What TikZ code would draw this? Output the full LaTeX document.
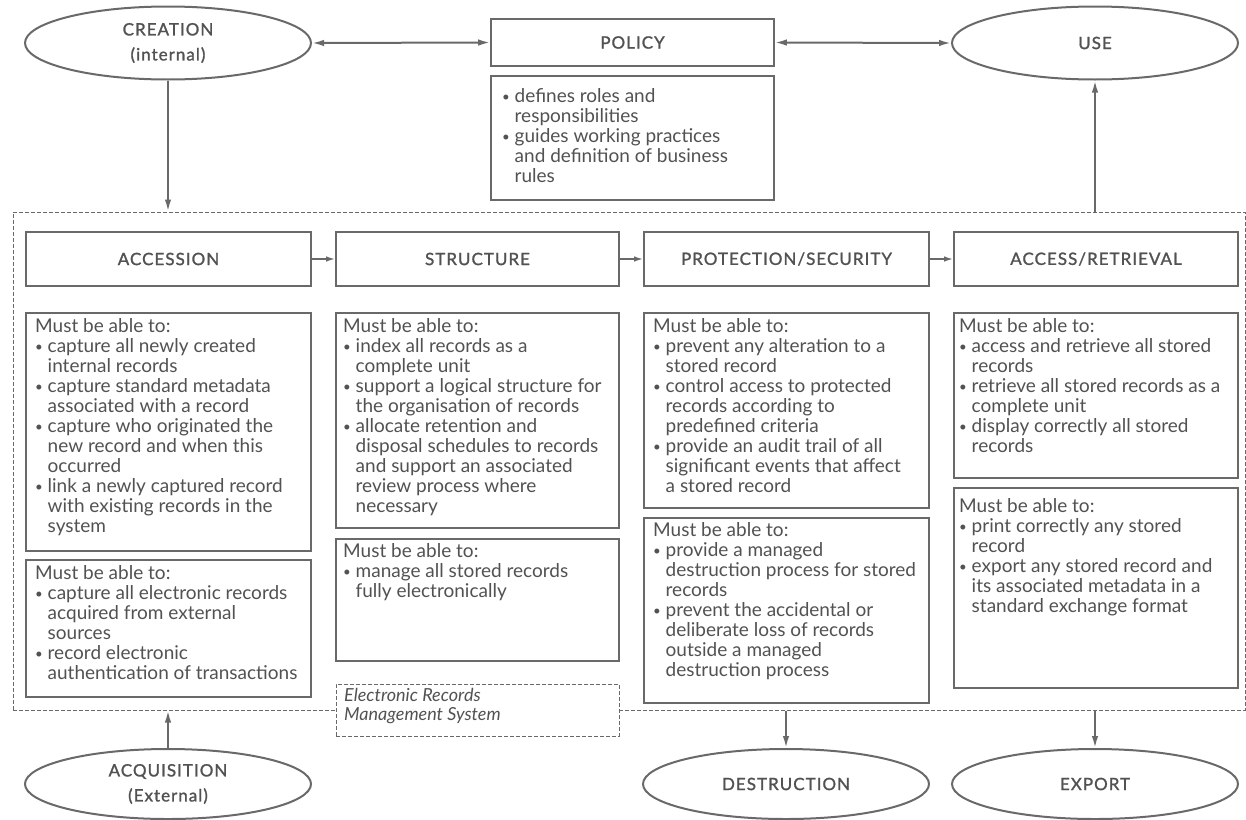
\documentclass[tikz,border=0pt]{standalone}
\usepackage{fontspec}
\setmainfont{Lato}
\newfontfamily\hdfont{Lato}[FakeBold=1.3,LetterSpace=6]
\usetikzlibrary{shapes.geometric,arrows.meta}
\definecolor{txt}{RGB}{82,82,82}
\definecolor{ln}{RGB}{105,105,105}
\newcommand\mybul{\makebox[12.5pt][l]{\raisebox{1pt}{\scalebox{0.7}{•}}}}
\newcommand\myind{\hspace*{12.5pt}}
\begin{document}
\begin{tikzpicture}[x=1pt,y=-1pt,
  box/.style={draw=ln, line width=1.7pt, rectangle, inner sep=0pt, fill=white},
  hdr/.style={box, text=txt, font=\hdfont\fontsize{17}{18}\selectfont},
  oval/.style={draw=ln, line width=2pt, ellipse, minimum width=286pt, minimum height=73pt, inner sep=0pt, align=center, text=txt, font=\hdfont\fontsize{17}{25}\selectfont},
  body/.style={anchor=north west, inner sep=0pt, align=left, text=txt, font=\fontsize{19}{20}\selectfont},
  arr/.style={draw=ln, line width=2pt, -{Latex[length=12pt,width=6.5pt]}},
  darr/.style={draw=ln, line width=2pt, {Latex[length=12pt,width=6.5pt]}-{Latex[length=12pt,width=6.5pt]}},
  sarr/.style={draw=ln, line width=1.6pt, -{Latex[length=9pt,width=5.5pt]}},
  dashbox/.style={draw=ln, line width=1pt, dash pattern=on 4pt off 2pt, rectangle, inner sep=0pt}
]
\fill[white] (0,0) rectangle (1246,819);
\useasboundingbox (0,0) rectangle (1246,819);

% outer system boundary
\node[dashbox, minimum width=1232pt, minimum height=498pt] (erms) at (629,461) {};

% top row
\node[oval] (creation) at (168,43) {CREATION\\(internal)};
\node[oval] (use) at (1095,43) {USE};
\node[hdr, minimum width=283pt, minimum height=47pt] (policy) at (632.5,42.5) {POLICY};
\node[box, minimum width=283pt, minimum height=124pt] (policyb) at (632.5,138) {};
\node[body] (policyt) at (502,88) {\mybul defines roles and\\\myind responsibilities\\\mybul guides working practices\\\myind and definition of business\\\myind rules};

% headers
\node[hdr, minimum width=285pt, minimum height=54pt] (h1) at (168.5,259) {ACCESSION};
\node[hdr, minimum width=283pt, minimum height=54pt] (h2) at (477.5,259) {STRUCTURE};
\node[hdr, minimum width=285pt, minimum height=54pt] (h3) at (786.5,259) {PROTECTION/SECURITY};
\node[hdr, minimum width=284pt, minimum height=54pt] (h4) at (1096,259) {ACCESS/RETRIEVAL};

% content boxes
\node[box, minimum width=285pt, minimum height=238pt] (a1) at (168.5,432) {};
\node[box, minimum width=285pt, minimum height=137pt] (a2) at (168.5,628.5) {};
\node[box, minimum width=283pt, minimum height=215pt] (s1) at (477.5,420.5) {};
\node[box, minimum width=283pt, minimum height=122pt] (s2) at (477.5,600) {};
\node[box, minimum width=285pt, minimum height=195pt] (p1) at (786.5,410.5) {};
\node[box, minimum width=285pt, minimum height=185pt] (p2) at (786.5,610.5) {};
\node[box, minimum width=284pt, minimum height=165pt] (r1) at (1096,395.5) {};
\node[box, minimum width=284pt, minimum height=200pt] (r2) at (1096,588) {};

\node[body] (a1t) at (35,318) {Must be able to:\\\mybul capture all newly created\\\myind internal records\\\mybul capture standard metadata\\\myind associated with a record\\\mybul capture who originated the\\\myind new record and when this\\\myind occurred\\\mybul link a newly captured record\\\myind with existing records in the\\\myind system};
\node[body] (a2t) at (35,565) {Must be able to:\\\mybul capture all electronic records\\\myind acquired from external\\\myind sources\\\mybul record electronic\\\myind authentication of transactions};
\node[body] (s1t) at (343,318) {Must be able to:\\\mybul index all records as a\\\myind complete unit\\\mybul support a logical structure for\\\myind the organisation of records\\\mybul allocate retention and\\\myind disposal schedules to records\\\myind and support an associated\\\myind review process where\\\myind necessary};
\node[body] (s2t) at (343,543) {Must be able to:\\\mybul manage all stored records\\\myind fully electronically};
\node[body] (p1t) at (653,318) {Must be able to:\\\mybul prevent any alteration to a\\\myind stored record\\\mybul control access to protected\\\myind records according to\\\myind predefined criteria\\\mybul provide an audit trail of all\\\myind significant events that affect\\\myind a stored record};
\node[body] (p2t) at (653,522) {Must be able to:\\\mybul provide a managed\\\myind destruction process for stored\\\myind records\\\mybul prevent the accidental or\\\myind deliberate loss of records\\\myind outside a managed\\\myind destruction process};
\node[body] (r1t) at (959,318) {Must be able to:\\\mybul access and retrieve all stored\\\myind records\\\mybul retrieve all stored records as a\\\myind complete unit\\\mybul display correctly all stored\\\myind records};
\node[body] (r2t) at (959,498) {Must be able to:\\\mybul print correctly any stored\\\myind record\\\mybul export any stored record and\\\myind its associated metadata in a\\\myind standard exchange format};

% label box
\node[dashbox, fill=white, minimum width=283pt, minimum height=52pt] (lbl) at (477.5,710) {};
\node[anchor=north west, inner sep=0pt, align=left, text=txt, font=\itshape\fontsize{18}{19}\selectfont] (lblt) at (344,688) {Electronic Records\\Management System};

% bottom row
\node[oval, minimum height=70pt] (acq) at (168,784) {ACQUISITION\\(External)};
\node[oval, minimum height=70pt] (dest) at (786,784) {DESTRUCTION};
\node[oval, minimum height=70pt] (export) at (1095,784) {EXPORT};

% connectors
\draw[darr] (creation.east) -- (policy.west);
\draw[darr] (policy.east) -- (use.west);
\draw[arr] (creation.south) -- (creation.south |- erms.north);
\draw[arr] (use.south |- erms.north) -- (use.south);
\draw[sarr] (h1) -- (h2);
\draw[sarr] (h2) -- (h3);
\draw[sarr] (h3) -- (h4);
\draw[arr] (acq.north) -- (acq.north |- erms.south);
\draw[arr] (dest.north |- erms.south) -- (dest.north);
\draw[arr] (export.north |- erms.south) -- (export.north);
\end{tikzpicture}
\end{document}
